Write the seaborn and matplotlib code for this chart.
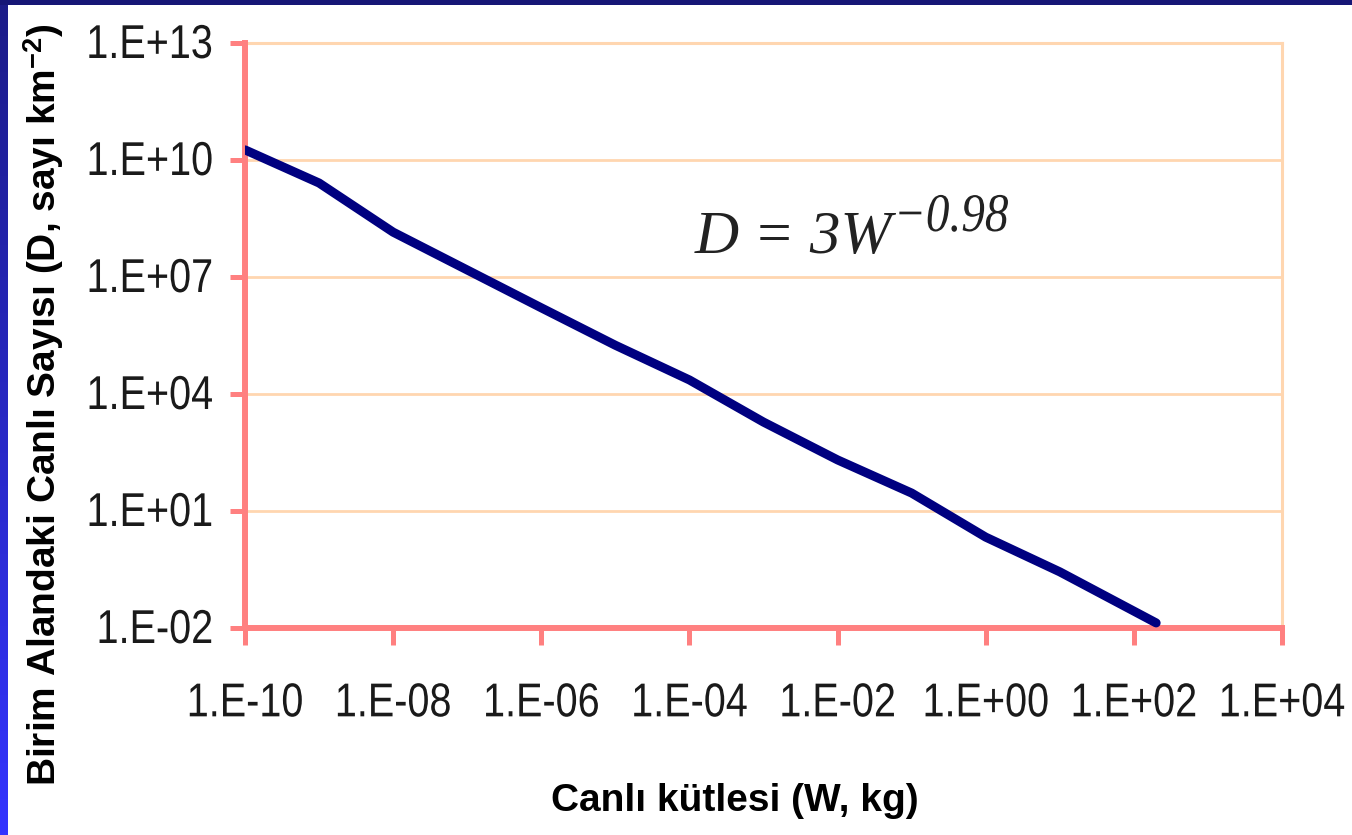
import numpy as np
import pandas as pd
import matplotlib
matplotlib.use("Agg")
import matplotlib.pyplot as plt
import seaborn as sns
from matplotlib.colors import LinearSegmentedColormap
from matplotlib.patches import Rectangle
from matplotlib.patheffects import AbstractPathEffect
from matplotlib.transforms import Affine2D

# ---- data ----
mass_kg = [1e-10, 1e-9, 1e-8, 1e-6, 1e-5, 1e-4, 1e-3, 1e-2, 1e-1, 1e0, 1e1, 2.0e2]
density_log = [10.26, 9.41, 8.15, 6.21, 5.25, 4.36, 3.28, 2.31, 1.46, 0.33, -0.56, -1.87]
density = [10 ** v for v in density_log]

x_ticks = [1e-10, 1e-8, 1e-6, 1e-4, 1e-2, 1e0, 1e2, 1e4]
x_tick_labels = ["1.E-10", "1.E-08", "1.E-06", "1.E-04", "1.E-02", "1.E+00", "1.E+02", "1.E+04"]
y_ticks = [1e-2, 1e1, 1e4, 1e7, 1e10, 1e13]
y_tick_labels = ["1.E-02", "1.E+01", "1.E+04", "1.E+07", "1.E+10", "1.E+13"]

x_label = "Canlı kütlesi (W, kg)"
y_label = r"Birim Alandaki Canlı Sayısı (D, sayı km$^{\mathbf{-2}}$)"
eq_main = "D = 3W"
eq_sup = "\u22120.98"

df = pd.DataFrame({"W": mass_kg, "D": density})


class VStretch(AbstractPathEffect):
    """Stretch text vertically about its baseline (narrow-font look)."""
    def __init__(self, s):
        super().__init__()
        self.s = s

    def draw_path(self, renderer, gc, tpath, affine, rgbFace=None):
        ox, oy = affine.transform((0, 0))
        t = affine + Affine2D().translate(-ox, -oy).scale(1, self.s).translate(ox, oy)
        renderer.draw_path(gc, tpath, t, rgbFace)


sns.set_style("white")
plt.rcParams["font.family"] = ["Liberation Sans", "DejaVu Sans"]
plt.rcParams["mathtext.fontset"] = "custom"
plt.rcParams["mathtext.rm"] = "Liberation Serif"
plt.rcParams["mathtext.it"] = "Liberation Serif:italic"
plt.rcParams["mathtext.bf"] = "Liberation Sans:bold"

W, H = 1352, 835
fig = plt.figure(figsize=(W / 100, H / 100), dpi=100)
fig.patch.set_facecolor("white")

ax = fig.add_axes([245 / W, 1 - 628 / H, 1037 / W, 585 / H])
ax.set_facecolor("white")

sns.lineplot(data=df, x="W", y="D", ax=ax, color="#000080", linewidth=6.5,
             sort=False, estimator=None, solid_capstyle="round", zorder=5)

ax.set_xscale("log")
ax.set_yscale("log")
ax.set_xlim(1e-10, 1e4)
ax.set_ylim(1e-2, 1e13)
ax.minorticks_off()
ax.set_xticks(x_ticks)
ax.set_xticklabels(x_tick_labels)
ax.set_yticks(y_ticks)
ax.set_yticklabels(y_tick_labels)

pink = "#FF8080"
peach = "#FFD6B0"
ax.yaxis.grid(True, color=peach, linewidth=2.0, zorder=0)
ax.xaxis.grid(False)
ax.set_axisbelow(True)

for s in ["left", "bottom"]:
    ax.spines[s].set_color(pink)
    ax.spines[s].set_linewidth(4.3)
    ax.spines[s].set_zorder(3)
for s in ["top", "right"]:
    ax.spines[s].set_color(peach)
    ax.spines[s].set_linewidth(2.2)
    ax.spines[s].set_visible(True)

ax.tick_params(axis="y", which="major", direction="out", color=pink, width=3.6,
               length=11, pad=12, labelsize=28.5, labelcolor="#1a1a1a", left=True)
ax.tick_params(axis="x", which="major", direction="out", color=pink, width=3.6,
               length=12, pad=30, labelsize=28.5, labelcolor="#1a1a1a", bottom=True)

for lbl in ax.get_xticklabels() + ax.get_yticklabels():
    lbl.set_path_effects([VStretch(1.2)])

ax.set_xlabel(x_label, fontsize=28, fontweight="bold", family="Liberation Sans", color="black")
ax.set_ylabel(y_label, fontsize=28, fontweight="bold", family="Liberation Sans", color="black")
ax.xaxis.set_label_coords((735 - 245) / 1037, (628 - 783) / 585)
ax.yaxis.set_label_coords((66 - 245) / 1037, (628 - 405) / 585)

ax.text((695 - 245) / 1037, (628 - 253) / 585, eq_main, transform=ax.transAxes,
        family="Liberation Serif", style="italic", fontsize=44, color="#222222",
        ha="left", va="baseline")
ax.text((894 - 245) / 1037, (628 - 231) / 585, eq_sup, transform=ax.transAxes,
        family="Liberation Serif", style="italic", fontsize=34, color="#222222",
        ha="left", va="baseline", path_effects=[VStretch(1.15)])

# slide frame: navy band on top and blue gradient band on the left
band = fig.add_axes([0, 0, 7 / W, 1])
grad = np.linspace(0, 1, 256).reshape(-1, 1)
cmap = LinearSegmentedColormap.from_list("frame", ["#1c1c88", "#3434ff"])
band.imshow(grad, aspect="auto", cmap=cmap, extent=[0, 1, 1, 0])
band.set_axis_off()
fig.add_artist(Rectangle((0, 1 - 5 / H), 1, 5 / H, transform=fig.transFigure,
                         facecolor="#161676", edgecolor="none", zorder=10))

fig.savefig("out.png", dpi=100, facecolor="white")
